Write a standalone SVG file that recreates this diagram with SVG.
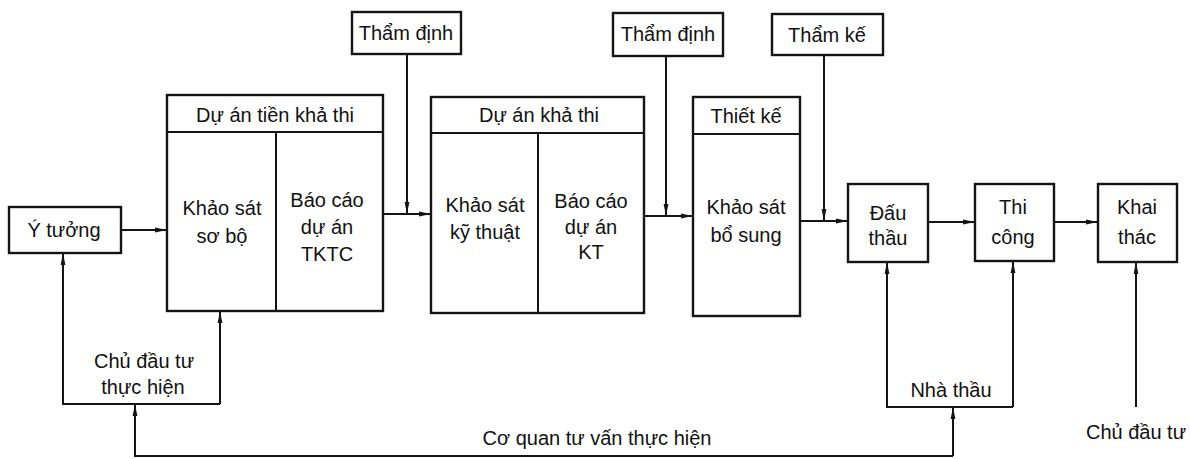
<svg xmlns="http://www.w3.org/2000/svg" width="1190" height="459" viewBox="0 0 1190 459">
  <style>
    .box { fill: #ffffff; stroke: #141414; stroke-width: 2.4; }
    .div { fill: none; stroke: #141414; stroke-width: 2; }
    .lbl { font-family: "Liberation Sans", Arial, sans-serif; font-size: 20px; fill: #111111; text-anchor: middle; }
    .wire { fill: none; stroke: #141414; stroke-width: 2; }
  </style>
  <defs>
    <marker id="arr" viewBox="0 0 12 6" refX="12" refY="3" markerWidth="12" markerHeight="6" markerUnits="userSpaceOnUse" orient="auto">
      <path d="M0,0.6 L12,3 L0,5.4 z" fill="#141414"/>
    </marker>
  </defs>
  <rect width="1190" height="459" fill="#ffffff"/>

  <!-- flow nodes -->
  <g id="y-tuong">
    <rect class="box" x="9" y="207" width="112" height="46"/>
    <text class="lbl" x="64" y="237">Ý tưởng</text>
  </g>

  <g id="du-an-tien-kha-thi">
    <rect class="box" x="167" y="95" width="216" height="216"/>
    <line class="div" x1="167" y1="132" x2="383" y2="132"/>
    <line class="div" x1="276" y1="132" x2="276" y2="311"/>
    <text class="lbl" x="275" y="122">Dự án tiền khả thi</text>
    <text class="lbl" x="222" y="215">Khảo sát</text>
    <text class="lbl" x="222" y="243">sơ bộ</text>
    <text class="lbl" x="327" y="207">Báo cáo</text>
    <text class="lbl" x="327" y="234">dự án</text>
    <text class="lbl" x="327" y="261">TKTC</text>
  </g>

  <g id="tham-dinh-1">
    <rect class="box" x="352" y="12" width="109" height="42"/>
    <text class="lbl" x="406" y="40">Thẩm định</text>
  </g>

  <g id="du-an-kha-thi">
    <rect class="box" x="431" y="97" width="213" height="216"/>
    <line class="div" x1="431" y1="133" x2="644" y2="133"/>
    <line class="div" x1="538" y1="133" x2="538" y2="313"/>
    <text class="lbl" x="539" y="122">Dự án khả thi</text>
    <text class="lbl" x="485" y="212">Khảo sát</text>
    <text class="lbl" x="485" y="239">kỹ thuật</text>
    <text class="lbl" x="591" y="208">Báo cáo</text>
    <text class="lbl" x="591" y="234">dự án</text>
    <text class="lbl" x="591" y="259">KT</text>
  </g>

  <g id="tham-dinh-2">
    <rect class="box" x="613" y="13" width="110" height="43"/>
    <text class="lbl" x="668" y="41">Thẩm định</text>
  </g>

  <g id="thiet-ke">
    <rect class="box" x="693" y="97" width="107" height="219"/>
    <line class="div" x1="693" y1="134" x2="800" y2="134"/>
    <text class="lbl" x="746" y="123">Thiết kế</text>
    <text class="lbl" x="746" y="214">Khảo sát</text>
    <text class="lbl" x="746" y="242">bổ sung</text>
  </g>

  <g id="tham-ke">
    <rect class="box" x="772" y="14" width="111" height="41"/>
    <text class="lbl" x="827" y="42">Thẩm kế</text>
  </g>

  <g id="dau-thau">
    <rect class="box" x="848" y="184" width="80" height="78"/>
    <text class="lbl" x="888" y="220">Đấu</text>
    <text class="lbl" x="888" y="245">thầu</text>
  </g>

  <g id="thi-cong">
    <rect class="box" x="975" y="184" width="79" height="77"/>
    <text class="lbl" x="1013" y="214">Thi</text>
    <text class="lbl" x="1013" y="244">công</text>
  </g>

  <g id="khai-thac">
    <rect class="box" x="1098" y="184" width="79" height="78"/>
    <text class="lbl" x="1137" y="214">Khai</text>
    <text class="lbl" x="1137" y="244">thác</text>
  </g>

  <!-- side labels -->
  <g id="chu-dau-tu-thuc-hien">
    <text class="lbl" x="144" y="368">Chủ đầu tư</text>
    <text class="lbl" x="143" y="394">thực hiện</text>
  </g>
  <g id="nha-thau">
    <text class="lbl" x="951" y="397">Nhà thầu</text>
  </g>
  <g id="co-quan-tu-van">
    <text class="lbl" x="597" y="445">Cơ quan tư vấn thực hiện</text>
  </g>
  <g id="chu-dau-tu">
    <text class="lbl" x="1136" y="439">Chủ đầu tư</text>
  </g>

  <!-- connectors -->
  <g id="connectors">
    <!-- main flow -->
    <line class="wire" x1="121" y1="230" x2="167" y2="230" marker-end="url(#arr)"/>
    <line class="wire" x1="383" y1="214" x2="431" y2="214" marker-end="url(#arr)"/>
    <line class="wire" x1="644" y1="216" x2="693" y2="216" marker-end="url(#arr)"/>
    <line class="wire" x1="800" y1="221" x2="848" y2="221" marker-end="url(#arr)"/>
    <line class="wire" x1="928" y1="222" x2="975" y2="222" marker-end="url(#arr)"/>
    <line class="wire" x1="1054" y1="222" x2="1098" y2="222" marker-end="url(#arr)"/>

    <!-- appraisal inputs -->
    <line class="wire" x1="407" y1="54" x2="407" y2="214" marker-end="url(#arr)"/>
    <line class="wire" x1="666" y1="56" x2="666" y2="216" marker-end="url(#arr)"/>
    <line class="wire" x1="824" y1="55" x2="824" y2="221" marker-end="url(#arr)"/>

    <!-- investor loop -->
    <polyline class="wire" points="220,404 63,404 63,253" marker-end="url(#arr)"/>
    <line class="wire" x1="220" y1="404" x2="220" y2="311" marker-end="url(#arr)"/>

    <!-- consultant line -->
    <polyline class="wire" points="953,456 135,456 135,404" marker-end="url(#arr)"/>
    <line class="wire" x1="953" y1="456" x2="953" y2="407" marker-end="url(#arr)"/>

    <!-- contractor loop -->
    <polyline class="wire" points="1013,407 887,407 887,262" marker-end="url(#arr)"/>
    <line class="wire" x1="1013" y1="407" x2="1013" y2="261" marker-end="url(#arr)"/>

    <!-- owner input -->
    <line class="wire" x1="1136" y1="407" x2="1136" y2="262" marker-end="url(#arr)"/>
  </g>
</svg>
